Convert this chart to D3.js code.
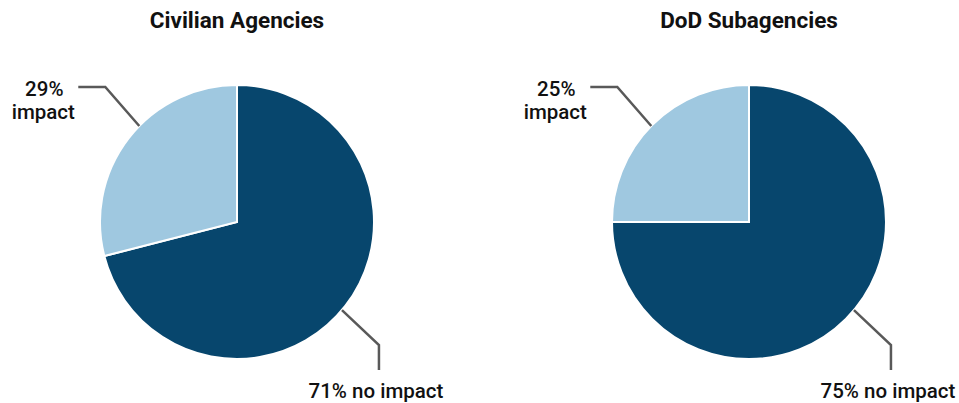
<!DOCTYPE html>
<html>
  <head>
    <meta charset="utf-8">
    <title>Impact pies</title>
    <script src="https://d3js.org/d3.v7.min.js"></script>
    <style>
      body { margin: 0; background: #fff; }
      text { font-family: Roboto, "Liberation Sans", sans-serif; fill: #111; }
      .title { font-size: 22.5px; font-weight: 700; }
      .lbl { font-size: 20.5px; font-weight: 500; }
    </style>
  </head>
  <body>
    <div id="chart"></div>
    <script>
      var charts = ["Civilian Agencies", "DoD Subagencies"];
      var categories = ["no impact", "impact"];
      var civilian = [71, 29];
      var dod = [75, 25];
      var colors = ["#07466d", "#9fc8e0"];

      var width = 959, height = 403,
          radius = 137,
          centers = [237, 749],
          cy = 222;

      var svg = d3.select("#chart").append("svg")
        .attr("width", width)
        .attr("height", height);

      var pie = d3.pie().sort(null).value(function(d) { return d; });
      var arc = d3.arc().innerRadius(0).outerRadius(radius);

      [civilian, dod].forEach(function(values, i) {
        var g = svg.append("g")
          .attr("transform", "translate(" + centers[i] + "," + cy + ")");

        g.append("text")
          .attr("class", "title")
          .attr("x", 0)
          .attr("y", -194)
          .attr("text-anchor", "middle")
          .text(charts[i]);

        g.selectAll("path.slice")
          .data(pie(values))
          .enter().append("path")
            .attr("class", "slice")
            .attr("d", arc)
            .attr("fill", function(d, j) { return colors[j]; })
            .attr("stroke", "#fff")
            .attr("stroke-width", 2);

        // leader lines: point on the rim, then an elbow
        function rim(deg) {
          var a = deg * Math.PI / 180;
          return [radius * Math.sin(a), -radius * Math.cos(a)];
        }

        var p = rim(-45.5);
        g.append("path")
          .attr("d", "M" + p[0] + "," + p[1] + "L" + (p[0] - 34) + "," + (p[1] - 39) + "h-27")
          .attr("fill", "none").attr("stroke", "#595959").attr("stroke-width", 2.5);
        g.append("text").attr("class", "lbl")
          .attr("x", p[0] - 95).attr("y", p[1] - 30)
          .attr("text-anchor", "middle")
          .text(values[1] + "%");
        g.append("text").attr("class", "lbl")
          .attr("x", p[0] - 96).attr("y", p[1] - 7)
          .attr("text-anchor", "middle")
          .text(categories[1]);

        var q = rim(130);
        g.append("path")
          .attr("d", "M" + q[0] + "," + q[1] + "L" + (q[0] + 37) + "," + (q[1] + 35) + "v25")
          .attr("fill", "none").attr("stroke", "#595959").attr("stroke-width", 2.5);
        g.append("text").attr("class", "lbl")
          .attr("x", q[0] + 34).attr("y", q[1] + 88)
          .attr("text-anchor", "middle")
          .text(values[0] + "% " + categories[0]);
      });
    </script>
  </body>
</html>
